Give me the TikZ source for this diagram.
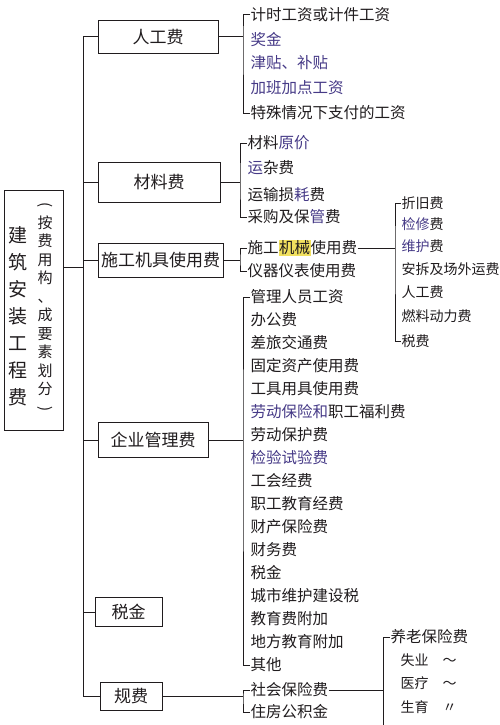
\documentclass[tikz,border=0pt]{standalone}
\usepackage{fontspec}
\setmainfont{Noto Sans CJK SC}
\usepackage{xcolor}
\usepackage{graphicx}
\usepackage{tikz}
\usetikzlibrary{calc}
\definecolor{ink}{RGB}{32,28,30}
\definecolor{penblue}{RGB}{70,58,135}
\definecolor{hlyellow}{RGB}{242,225,95}
\newcommand{\hl}[1]{{\setlength{\fboxsep}{0.5pt}\colorbox{hlyellow}{#1}}}
\newcommand{\vparen}[1]{\rotatebox[origin=c]{-90}{#1}}

\begin{document}
\begin{tikzpicture}[x=1pt,y=-1pt,line width=1pt,draw=ink,text=ink,
	catbox/.style={draw,inner sep=0pt,font=\fontsize{17}{19}\selectfont},
	item/.style={anchor=west,inner sep=0pt,font=\fontsize{15.5}{18}\selectfont},
	subitem/.style={anchor=west,inner sep=0pt,font=\fontsize{14}{16}\selectfont}]
	\useasboundingbox[fill=white] (0,0) rectangle (500,725);

	% 总费用
	\node[draw,minimum width=59,minimum height=240,inner sep=0pt] (root) at (33.5,310) {};
	\node[align=center,inner sep=0pt,font=\fontsize{19}{27}\selectfont] (rootl) at (18,316)
		{建\\筑\\安\\装\\工\\程\\费};
	\node[align=center,inner sep=0pt,font=\fontsize{15}{18.5}\selectfont] (rootr) at (45,308)
		{\vparen{(}\\按\\费\\用\\构\\、\\成\\要\\素\\划\\分\\\vparen{)}};
	\coordinate (sptop) at (83,37);
	\coordinate (spbot) at (83,696);
	\coordinate (rootj) at (83,267);
	\draw (sptop) -- (spbot);
	\draw (rootj -| root.east) -- (rootj);

	% 六个组成部分
	\node[catbox,minimum width=120,minimum height=33] (rg) at (158,37) {人工费};
	\node[catbox,minimum width=122,minimum height=40] (cl) at (159,182) {材料费};
	\node[catbox,minimum width=125,minimum height=34] (jj) at (160.5,260) {施工机具使用费};
	\node[catbox,minimum width=110,minimum height=35] (gl) at (153,440) {企业管理费};
	\node[catbox,minimum width=67,minimum height=29] (sj) at (128.5,612) {税金};
	\node[catbox,minimum width=62,minimum height=28] (gf) at (131,696) {规费};
	\draw (rg.west -| sptop) -- (rg.west);
	\draw (cl.west -| sptop) -- (cl.west);
	\draw (jj.west -| sptop) -- (jj.west);
	\draw (gl.west -| sptop) -- (gl.west);
	\draw (sj.west -| sptop) -- (sj.west);
	\draw (gf.west -| sptop) -- (gf.west);

	% 人工费
	\node[item] (rg1) at (250,15) {计时工资或计件工资};
	\node[item,text=penblue] (rg2) at (250,40) {奖金};
	\node[item,text=penblue] (rg3) at (250,63) {津贴、补贴};
	\node[item,text=penblue] (rg4) at (250,88) {加班加点工资};
	\node[item] (rg5) at (250,113) {特殊情况下支付的工资};
	\coordinate (rgb) at (243,37);
	\draw (rg.east) -- (rgb);
	\draw (rg1.west) -| (rgb) |- (rg5.west);

	% 材料费
	\node[item] (cl1) at (247,143) {材料\textcolor{penblue}{原价}};
	\node[item] (cl2) at (247,168) {\textcolor{penblue}{运}杂费};
	\node[item] (cl3) at (247,195) {运输损\textcolor{penblue}{耗}费};
	\node[item] (cl4) at (247,217) {采购及保\textcolor{penblue}{管}费};
	\coordinate (clb) at (240,182);
	\draw (cl.east) -- (clb);
	\draw (cl1.west) -| (clb) |- (cl4.west);

	% 施工机具使用费
	\node[item] (jj1) at (247,248) {施工\hl{机械}使用费};
	\node[item] (jj2) at (247,271) {仪器仪表使用费};
	\coordinate (jjb) at (240,260);
	\draw (jj.east) -- (jjb);
	\draw (jj1.west) -| (jjb) |- (jj2.west);

	\node[subitem] (jx1) at (401,203) {折旧费};
	\node[subitem] (jx2) at (401,224) {\textcolor{penblue}{检修}费};
	\node[subitem] (jx3) at (401,246) {\textcolor{penblue}{维护}费};
	\node[subitem] (jx4) at (401,269) {安拆及场外运费};
	\node[subitem] (jx5) at (401,292) {人工费};
	\node[subitem] (jx6) at (401,316) {燃料动力费};
	\node[subitem] (jx7) at (401,341) {税费};
	\coordinate (jxb) at (395,248);
	\draw (jj1.east) -- (jxb);
	\draw (jx1.west) -| (jxb) |- (jx7.west);

	% 企业管理费
	\node[item] (gl1) at (250,297) {管理人员工资};
	\node[item] (gl2) at (250,320) {办公费};
	\node[item] (gl3) at (250,343) {差旅交通费};
	\node[item] (gl4) at (250,366) {固定资产使用费};
	\node[item] (gl5) at (250,389) {工具用具使用费};
	\node[item] (gl6) at (250,412) {\textcolor{penblue}{劳动保险和}职工福利费};
	\node[item] (gl7) at (250,435) {劳动保护费};
	\node[item,text=penblue] (gl8) at (250,458) {检验试验费};
	\node[item] (gl9) at (250,481) {工会经费};
	\node[item] (gl10) at (250,504) {职工教育经费};
	\node[item] (gl11) at (250,527) {财产保险费};
	\node[item] (gl12) at (250,550) {财务费};
	\node[item] (gl13) at (250,573) {税金};
	\node[item] (gl14) at (250,596) {城市维护建设税};
	\node[item] (gl15) at (250,619) {教育费附加};
	\node[item] (gl16) at (250,642) {地方教育附加};
	\node[item] (gl17) at (250,665) {其他};
	\coordinate (glb) at (243,440);
	\draw (gl.east) -- (glb);
	\draw (gl1.west) -| (glb) |- (gl17.west);

	% 规费
	\node[item] (gf1) at (250,690) {社会保险费};
	\node[item] (gf2) at (250,712) {住房公积金};
	\coordinate (gfb) at (243,696);
	\draw (gf.east) -- (gfb);
	\draw (gf1.west) -| (gfb) |- (gf2.west);

	\node[item] (sb1) at (390,637) {养老保险费};
	\node[subitem] (sb2) at (400,660) {失业\quad ～};
	\node[subitem] (sb3) at (400,683) {医疗\quad ～};
	\node[subitem] (sb4) at (400,707) {生育\quad 〃};
	\coordinate (sbb) at (383,690);
	\coordinate (sbend) at (383,730);
	\draw (gf1.east) -- (sbb);
	\draw (sb1.west) -| (sbend);
\end{tikzpicture}
\end{document}
